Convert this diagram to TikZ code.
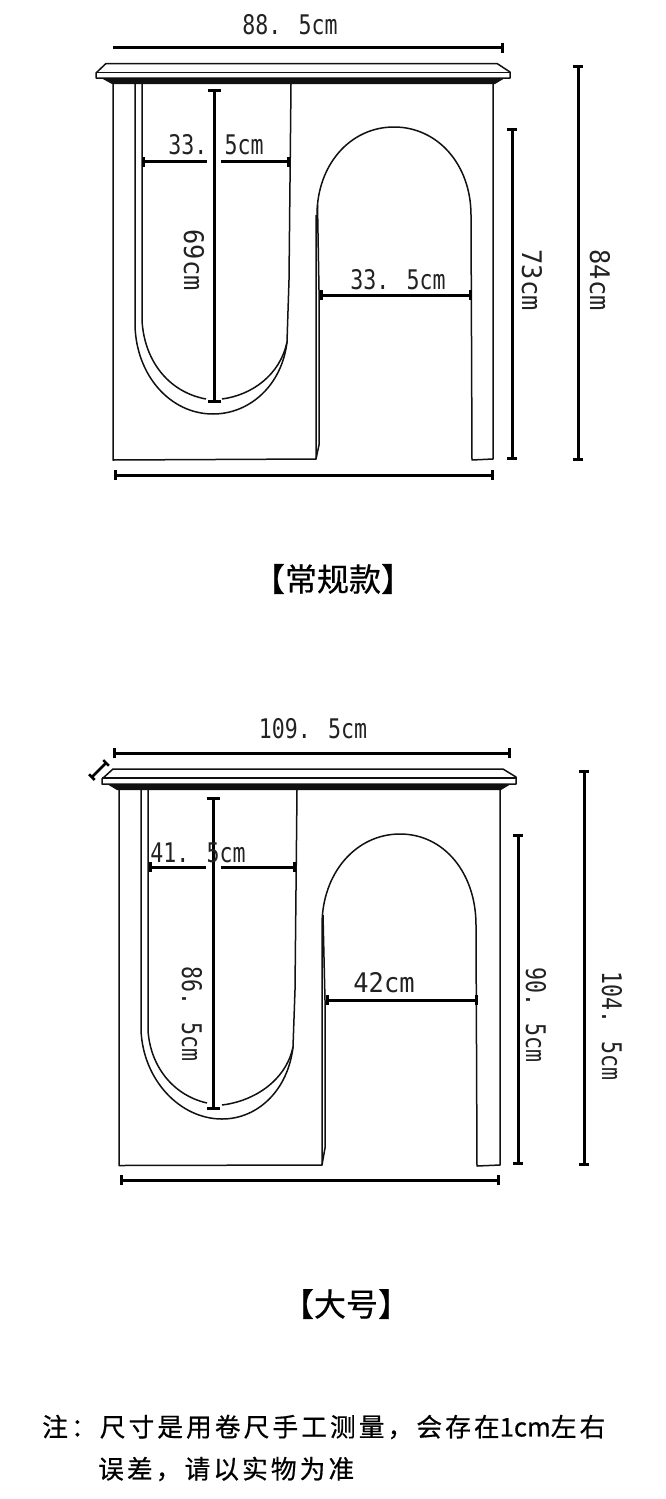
\documentclass[tikz,border=0pt]{standalone}
\usepackage{fontspec}
\usepackage{xcolor}
\usepackage{tikz}
\usetikzlibrary{arrows.meta}
\setmainfont{DejaVu Sans Mono}[FakeStretch=0.8]
\newfontfamily\widefont{DejaVu Sans Mono}[FakeStretch=0.94]
\newfontfamily\cjkfont{Noto Sans CJK SC}[FakeBold=0.6]
\newfontfamily\notefont{Noto Sans CJK SC}[LetterSpace=12,FakeBold=0.6]
\newfontfamily\plainnotefont{Noto Sans CJK SC}[FakeBold=0.6]
\definecolor{inkline}{HTML}{111111}
\definecolor{inktext}{HTML}{222222}
\tikzset{
  outline/.style={draw=inkline, line width=1.5pt, line join=round},
  endbar/.tip={Bar[width=10pt,length=3pt]},
  bigbar/.tip={Bar[width=13pt,length=3pt]},
  dimplain/.style={draw=black, line width=3pt},
  dimline/.style={dimplain, endbar-endbar},
  dimlabel/.style={text=inktext, inner sep=0pt, font=\fontsize{27}{27}\selectfont},
  widelabel/.style={dimlabel, font=\widefont\fontsize{27}{27}\selectfont},
  vdimlabel/.style={dimlabel, rotate=-90},
  vwidelabel/.style={widelabel, rotate=-90},
  titlelabel/.style={text=black, inner sep=0pt, font=\cjkfont\fontsize{32}{32}\selectfont},
  notelabel/.style={text=black, inner sep=0pt, anchor=west, font=\notefont\fontsize{25.7}{25.7}\selectfont}
}

\begin{document}
\begin{tikzpicture}[x=1pt,y=-1pt]
    \useasboundingbox (0,0) rectangle (665,1499);

    % Regular model - top board
    \draw[outline] (106,63.5) -- (497,63.5) -- (510,72) -- (510,78) -- (96,78) -- (96,73) -- cycle;
    \draw[outline] (96,72.5) -- (510,72.5);
    \fill[inkline] (101,78) -- (505,78) -- (495,84) -- (112,84) -- cycle;

    % Regular model - left block with U cut
    \draw[outline] (113,84) -- (113,460) -- (316,459) -- (316,215);
    \draw[outline] (135,84) -- (135,325) .. controls (136,375) and (170,414) .. (213,414) .. controls (250,414) and (282,385) .. (287,342);
    \draw[outline] (142,84) -- (142,320) .. controls (144,360) and (168,392) .. (206,399);
    \draw[outline] (222,399) .. controls (252,395) and (280,375) .. (287,342) -- (289,280) -- (291,84);
    \draw[outline] (317.5,205) -- (319,290) -- (319,445) -- (316,459);

    % Regular model - arch and right leg
    \draw[outline] (317,215) .. controls (317,165) and (350,127) .. (394,127) .. controls (438,127) and (471,165) .. (471,215) -- (472,460) -- (493,459) -- (493,84);

    % Regular model - dimensions
    \draw[dimplain, -endbar] (113,47.5) -- (504,47.5);
    \node[dimlabel] (widthA) at (290,25) {88. 5cm};
    \draw[dimplain, endbar-] (142,161.5) -- (207,161.5);
    \draw[dimplain, -endbar] (221,161.5) -- (290,161.5);
    \draw[dimplain, bigbar-bigbar] (214,89) -- (214,403);
    \node[dimlabel] (openA) at (216,145) {33. 5cm};
    \node[vwidelabel] (depthA) at (194,260) {69cm};
    \draw[dimline] (320,295) -- (472,295);
    \node[dimlabel] (archA) at (398,280) {33. 5cm};
    \draw[dimline] (512,128) -- (512,460);
    \node[vwidelabel] (archhighA) at (532,280) {73cm};
    \draw[dimline] (578,65) -- (578,461);
    \node[vwidelabel] (heightA) at (600,280) {84cm};
    \draw[dimline] (114,475) -- (494,475);
    \node[titlelabel] (titleA) at (333,579) {【常规款】};

    % Large model - top board
    \draw[outline] (113,769) -- (503,769) -- (516,777) -- (516,784) -- (102,784) -- (102,779) -- cycle;
    \draw[outline] (102,778) -- (516,778);
    \fill[inkline] (107,784) -- (511,784) -- (501,790) -- (117,790) -- cycle;

    % Large model - left block with U cut
    \draw[outline] (119,790) -- (119,1165.5) -- (322,1165) -- (322,925);
    \draw[outline] (141,790) -- (141,1030) .. controls (143,1080) and (180,1119) .. (222,1119) .. controls (258,1119) and (288,1090) .. (293,1047);
    \draw[outline] (148,790) -- (148,1030) .. controls (150,1065) and (172,1095) .. (207,1103);
    \draw[outline] (222,1105) .. controls (255,1101) and (286,1080) .. (293,1047) -- (295,990) -- (297,790);
    \draw[outline] (323,915) -- (325,1000) -- (325,1148) -- (322,1165);

    % Large model - arch and right leg
    \draw[outline] (322,925) .. controls (322,873) and (356,834) .. (400,834) .. controls (444,834) and (476,873) .. (476,925) -- (477,1166) -- (500,1165) -- (500,790);

    % Large model - dimensions
    \draw[dimline] (113,753) -- (511,753);
    \node[dimlabel] (widthB) at (313,729) {109. 5cm};
    \draw[dimplain, line width=2.5pt, {Bar[width=8pt,length=2.5pt]}-{Bar[width=8pt,length=2.5pt]}] (91,778) -- (107,762);
    \draw[dimplain, endbar-] (149,867) -- (206,867);
    \draw[dimplain, -endbar] (221,867) -- (296,867);
    \draw[dimplain, bigbar-bigbar] (213,797) -- (213,1110);
    \node[dimlabel] (openB) at (198,853) {41. 5cm};
    \node[vdimlabel] (depthB) at (192,1014) {86. 5cm};
    \draw[dimline] (326,1000) -- (478,1000);
    \node[widelabel] (archB) at (384,983) {42cm};
    \draw[dimline] (518,834) -- (518,1165);
    \node[vdimlabel] (archhighB) at (536,1015) {90. 5cm};
    \draw[dimline] (584,770) -- (584,1166);
    \node[vdimlabel] (heightB) at (612,1026) {104. 5cm};
    \draw[dimline] (120,1180) -- (500,1180);
    \node[titlelabel] (titleB) at (346,1304) {【大号】};

    % Note
    \node[notelabel] (noteA) at (42,1427) {注：尺寸是用卷尺手工测量，会存在{\plainnotefont 1cm}左右};
    \node[notelabel] (noteB) at (98,1469) {误差，请以实物为准};
\end{tikzpicture}
\end{document}
